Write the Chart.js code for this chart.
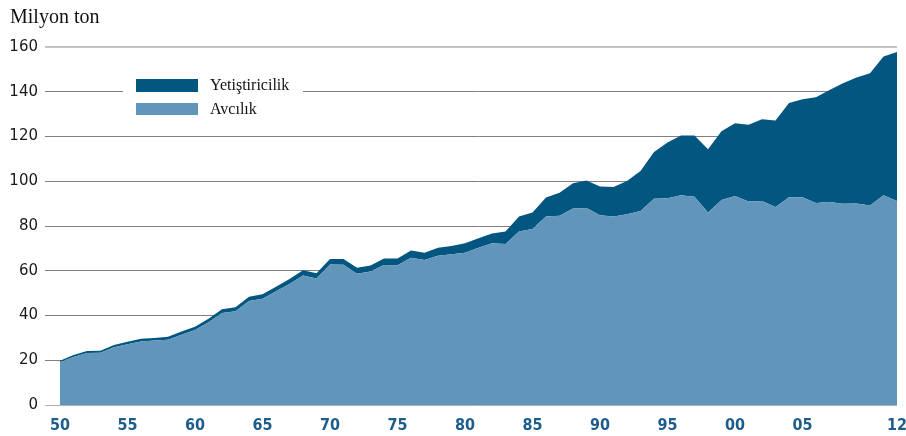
<!DOCTYPE html>
<html><head><meta charset="utf-8">
<script src="https://cdn.jsdelivr.net/npm/chart.js@4/dist/chart.umd.min.js"></script>
<style>html,body{margin:0;padding:0;background:#fff}#wrap{width:906px;height:436px;position:relative}</style>
</head><body><div id="wrap"><canvas id="c" width="906" height="436"></canvas></div>
<script>
const years = [1950,1951,1952,1953,1954,1955,1956,1957,1958,1959,
  1960,1961,1962,1963,1964,1965,1966,1967,1968,1969,
  1970,1971,1972,1973,1974,1975,1976,1977,1978,1979,
  1980,1981,1982,1983,1984,1985,1986,1987,1988,1989,
  1990,1991,1992,1993,1994,1995,1996,1997,1998,1999,
  2000,2001,2002,2003,2004,2005,2006,2007,2008,2009,
  2010,2011,2012];
const capture = [19.1,21.5,23.2,23.4,25.8,27.2,28.4,28.8,29.2,31.4,
  33.5,37.0,41.1,41.9,46.5,47.5,50.8,54.1,57.9,56.5,
  62.8,62.7,58.7,59.7,62.6,62.5,65.8,64.8,66.7,67.4,
  68.0,70.3,72.3,71.9,77.5,78.7,84.2,84.6,87.8,88.1,
  84.8,84.3,85.2,86.7,92.2,92.4,93.7,93.1,86.0,91.6,
  93.4,90.9,91.2,88.5,92.9,92.8,90.3,90.7,90.0,90.1,
  89.2,93.7,91.2];
const aquaculture = [0.7,0.8,0.9,0.9,1.0,1.1,1.2,1.2,1.3,1.4,
  1.5,1.6,1.7,1.8,1.9,2.0,2.1,2.2,2.3,2.4,
  2.5,2.6,2.6,2.7,2.9,3.0,3.2,3.2,3.6,3.7,
  4.3,4.2,4.4,5.6,6.7,7.3,8.5,10.3,11.3,12.2,
  12.8,13.1,14.9,17.9,20.9,24.9,26.8,27.4,28.3,30.7,
  32.5,34.4,36.5,38.6,42.1,43.9,47.2,50.1,53.8,56.3,
  59.1,62.0,66.6];
const xTickYears = [1950,1955,1960,1965,1970,1975,1980,1985,1990,1995,2000,2005,2012];
const xTickLabels = ['50','55','60','65','70','75','80','85','90','95','00','05','12'];
const yTickValues = [0,20,40,60,80,100,120,140,160];
const seriesNames = ['Avcılık','Yetiştiricilik'];
const unitLabel = 'Milyon ton';

const COL_CAPTURE = '#6195ba';
const COL_AQUA = '#03567f';

const titlePlugin = {
  id: 'unitTitle',
  afterDraw(chart) {
    const ctx = chart.ctx;
    ctx.save();
    ctx.font = '20px "Liberation Serif", "Times New Roman", serif';
    ctx.fillStyle = '#111';
    ctx.textBaseline = 'alphabetic';
    ctx.textAlign = 'left';
    ctx.fillText(unitLabel, 10, 23);
    ctx.restore();
  }
};

const legendPlugin = {
  id: 'boxLegend',
  afterDatasetsDraw(chart) {
    const ctx = chart.ctx;
    const ds = chart.data.datasets;
    ctx.save();
    ctx.fillStyle = '#fff';
    ctx.fillRect(123, 72, 180, 48);
    const entries = [
      {label: ds[1].label, color: ds[1].backgroundColor, y: 79, h: 13, ty: 86},
      {label: ds[0].label, color: ds[0].backgroundColor, y: 103, h: 12, ty: 110}
    ];
    ctx.font = '16px "Liberation Serif", "Times New Roman", serif';
    ctx.textBaseline = 'middle';
    ctx.textAlign = 'left';
    for (const e of entries) {
      ctx.fillStyle = e.color;
      ctx.fillRect(136, e.y, 62, e.h);
      ctx.fillStyle = '#111';
      ctx.fillText(e.label, 210, e.ty);
    }
    ctx.restore();
  }
};

const gridColor = (ctx) => {
  const v = ctx.tick ? ctx.tick.value : null;
  if (v === 160) return '#c4c4c4';
  if (v === 0) return '#b0b0b0';
  return '#7f7f7f';
};

new Chart(document.getElementById('c'), {
  type: 'line',
  data: {
    datasets: [
      {
        label: seriesNames[0],
        data: years.map((y, i) => ({x: y, y: capture[i]})),
        backgroundColor: COL_CAPTURE,
        borderColor: COL_CAPTURE,
        borderWidth: 0,
        pointRadius: 0,
        fill: 'origin',
        tension: 0
      },
      {
        label: seriesNames[1],
        data: years.map((y, i) => ({x: y, y: aquaculture[i]})),
        backgroundColor: COL_AQUA,
        borderColor: COL_AQUA,
        borderWidth: 0,
        pointRadius: 0,
        fill: '-1',
        tension: 0
      }
    ]
  },
  options: {
    responsive: false,
    animation: false,
    devicePixelRatio: 1,
    layout: {padding: {left: 0, right: 9, top: 47, bottom: 0}},
    plugins: {
      legend: {display: false},
      tooltip: {enabled: false},
      title: {display: false}
    },
    scales: {
      x: {
        type: 'linear',
        min: 1950,
        max: 2012,
        afterBuildTicks(scale) {
          scale.ticks = xTickYears.map(v => ({value: v}));
        },
        afterFit(scale) { scale.height = 31; scale.paddingLeft = 0; scale.paddingRight = 0; },
        grid: {display: false, drawTicks: false},
        border: {display: false},
        ticks: {
          autoSkip: false,
          maxRotation: 0,
          padding: 11,
          color: '#1d5d8c',
          font: {family: '"DejaVu Sans Condensed", "Liberation Sans Narrow", "Roboto Condensed", Roboto, sans-serif', size: 16, weight: 'bold'},
          callback(value) {
            const i = xTickYears.indexOf(value);
            return i >= 0 ? xTickLabels[i] : '';
          }
        }
      },
      y: {
        stacked: true,
        min: 0,
        max: 160,
        afterBuildTicks(scale) {
          scale.ticks = yTickValues.map(v => ({value: v}));
        },
        afterFit(scale) { scale.width = 60; scale.paddingTop = 0; scale.paddingBottom = 0; },
        border: {display: false},
        grid: {
          color: gridColor,
          lineWidth: (ctx) => (ctx.tick && ctx.tick.value === 160) ? 2 : 1,
          tickLength: 15,
          drawTicks: true
        },
        ticks: {
          padding: 7,
          color: '#1a1a1a',
          font: {family: '"DejaVu Sans", Verdana, sans-serif', size: 15}
        }
      }
    }
  },
  plugins: [titlePlugin, legendPlugin]
});
</script>
</body></html>
